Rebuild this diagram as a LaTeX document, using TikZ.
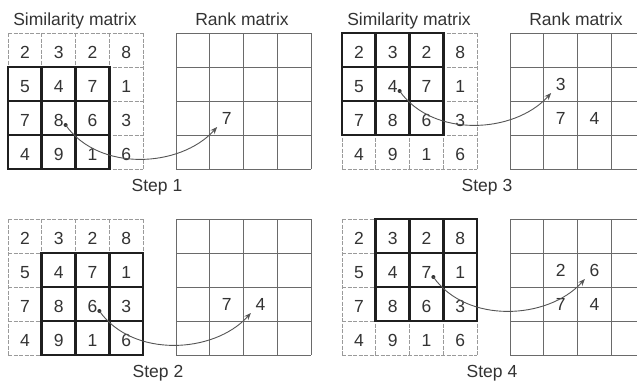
\documentclass[tikz,border=0pt]{standalone}
\usepackage{fontspec}
\setmainfont{Liberation Sans}
\usetikzlibrary{arrows.meta}
\definecolor{txt}{HTML}{333333}
\definecolor{simline}{HTML}{9A9A9A}
\definecolor{rankline}{HTML}{6A6A6A}
\definecolor{arrowc}{HTML}{555555}
% #1 x offset, #2 y offset, #3 id, #4 window top row, #5 window left col
\newcommand\drawpanel[5]{%
  \foreach \i in {0,...,4} {
    \draw[simgrid] ({#1+8+33.75*\i},{#2+33}) -- ++(0,136);
    \draw[simgrid] ({#1+8},{#2+33+34*\i}) -- ++(135,0);
    \draw[rankgrid] ({#1+176+33.75*\i},{#2+33}) -- ++(0,136);
    \draw[rankgrid] ({#1+176},{#2+33+34*\i}) -- ++(135,0);
  }
  \foreach \i in {1,2} {
    \draw[window] ({#1+8+33.75*(#5+\i)},{#2+33+34*#4}) -- ++(0,102);
    \draw[window] ({#1+8+33.75*#5},{#2+33+34*(#4+\i)}) -- ++(101.25,0);
  }
  \draw[window] ({#1+8+33.75*#5},{#2+33+34*#4}) rectangle ++(101.25,102);
  \foreach \v [count=\c from 0] in {2,3,2,8}
    \node[num] (#3-s-0-\c) at ({#1+8+33.75*(\c+0.5)},{#2+33+34*0.5+2.5}) {\v};
  \foreach \v [count=\c from 0] in {5,4,7,1}
    \node[num] (#3-s-1-\c) at ({#1+8+33.75*(\c+0.5)},{#2+33+34*1.5+2.5}) {\v};
  \foreach \v [count=\c from 0] in {7,8,6,3}
    \node[num] (#3-s-2-\c) at ({#1+8+33.75*(\c+0.5)},{#2+33+34*2.5+2.5}) {\v};
  \foreach \v [count=\c from 0] in {4,9,1,6}
    \node[num] (#3-s-3-\c) at ({#1+8+33.75*(\c+0.5)},{#2+33+34*3.5+2.5}) {\v};
}
% rank entry: #1 x off, #2 y off, #3 name, #4 row, #5 col, #6 value
\newcommand\rankval[6]{%
  \node[num] (#3) at ({#1+176+33.75*(#5+0.5)},{#2+33+34*(#4+0.5)}) {#6};
}
% arrow: #1 x off, #2 y off, #3 id, #4 row, #5 col
\newcommand\steparrow[5]{%
  \node[dot] (#3-d) at ({#1+8+33.75*(#5+0.5)+7},{#2+33+34*(#4+0.5)+7}) {};
  \coordinate (#3-e) at ({#1+176+33.75*(#5+0.5)-9.5},{#2+33+34*(#4+0.5)+9});
  \draw[conn] (#3-d.center) .. controls +(33,47) and +(-37,41) .. (#3-e);
}
\begin{document}
\begin{tikzpicture}[x=1pt,y=-1pt,
  lbl/.style={font=\fontsize{17.5}{20}\selectfont, text=txt, inner sep=0pt},
  num/.style={lbl},
  simgrid/.style={draw=simline, line width=0.8pt, dash pattern=on 4pt off 1.5pt},
  rankgrid/.style={draw=rankline, line width=0.9pt},
  window/.style={draw=black!88, line width=2.8pt},
  conn/.style={draw=arrowc, line width=0.9pt, -{Stealth[length=7pt,width=5.5pt]}},
  dot/.style={circle, fill=black!80, inner sep=0pt, minimum size=4pt}]
\clip (0,0) rectangle (637,384);
\fill[white] (0,0) rectangle (637,384);
% titles
\node[lbl, anchor=base] (t1) at (75,25) {Similarity matrix};
\node[lbl, anchor=base] (t2) at (242,25) {Rank matrix};
\node[lbl, anchor=base] (t3) at (409,25) {Similarity matrix};
\node[lbl, anchor=base] (t4) at (576,25) {Rank matrix};
% panels
\drawpanel{0}{0}{p1}{1}{0}
\drawpanel{0}{186}{p2}{1}{1}
\drawpanel{334}{0}{p3}{0}{0}
\drawpanel{334}{186}{p4}{0}{1}
% rank values
\rankval{0}{0}{r1a}{2}{1}{7}
\rankval{0}{186}{r2a}{2}{1}{7}
\rankval{0}{186}{r2b}{2}{2}{4}
\rankval{334}{0}{r3a}{1}{1}{3}
\rankval{334}{0}{r3b}{2}{1}{7}
\rankval{334}{0}{r3c}{2}{2}{4}
\rankval{334}{186}{r4a}{1}{1}{2}
\rankval{334}{186}{r4b}{1}{2}{6}
\rankval{334}{186}{r4c}{2}{1}{7}
\rankval{334}{186}{r4d}{2}{2}{4}
% arrows
\steparrow{0}{0}{a1}{2}{1}
\steparrow{0}{186}{a2}{2}{2}
\steparrow{334}{0}{a3}{1}{1}
\steparrow{334}{186}{a4}{1}{2}
% step labels
\node[lbl, anchor=base] (s1) at (157,191) {Step 1};
\node[lbl, anchor=base] (s2) at (158,377) {Step 2};
\node[lbl, anchor=base] (s3) at (487,191) {Step 3};
\node[lbl, anchor=base] (s4) at (492,377) {Step 4};
\end{tikzpicture}
\end{document}
